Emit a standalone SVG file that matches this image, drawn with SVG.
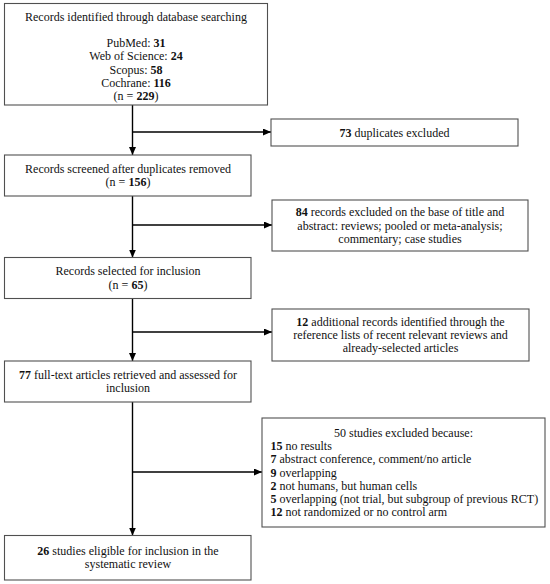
<svg xmlns="http://www.w3.org/2000/svg" width="550" height="584" viewBox="0 0 550 584">
<defs>
<marker id="ah" markerWidth="8" markerHeight="7" refX="8" refY="3.5" orient="auto" markerUnits="userSpaceOnUse">
<path d="M0,0 L8,3.5 L0,7 Z" fill="#000"/>
</marker>
<style>
.box{fill:#fff;stroke:#505050;stroke-width:1.1}
.t{font-family:"Liberation Serif","Times New Roman",serif;font-size:12px;fill:#111;text-anchor:middle}
.l{text-anchor:start}
.b{font-weight:bold}
.c{stroke:#000;stroke-width:1.4;fill:none}
</style>
</defs>
<rect width="550" height="584" fill="#fff"/>
<g id="connectors">
<line class="c" x1="132.5" y1="105" x2="132.5" y2="155" marker-end="url(#ah)"/>
<line class="c" x1="132.5" y1="132" x2="271" y2="132" marker-end="url(#ah)"/>
<line class="c" x1="132.5" y1="196" x2="132.5" y2="257.5" marker-end="url(#ah)"/>
<line class="c" x1="132.5" y1="225" x2="272" y2="225" marker-end="url(#ah)"/>
<line class="c" x1="132.5" y1="298.5" x2="132.5" y2="361" marker-end="url(#ah)"/>
<line class="c" x1="132.5" y1="332" x2="272" y2="332" marker-end="url(#ah)"/>
<line class="c" x1="132.5" y1="402" x2="132.5" y2="535.5" marker-end="url(#ah)"/>
<line class="c" x1="132.5" y1="472" x2="262" y2="472" marker-end="url(#ah)"/>
</g>
<g id="identified">
<rect class="box" x="4.5" y="3.5" width="263" height="101.5"/>
<text class="t" x="136" y="21">Records identified through database searching</text>
<text class="t" x="136" y="47">PubMed: <tspan class="b">31</tspan></text>
<text class="t" x="136" y="60.3">Web of Science: <tspan class="b">24</tspan></text>
<text class="t" x="136" y="73.6">Scopus: <tspan class="b">58</tspan></text>
<text class="t" x="136" y="86.9">Cochrane: <tspan class="b">116</tspan></text>
<text class="t" x="136" y="100.2">(n = <tspan class="b">229</tspan>)</text>
</g>
<g id="duplicates">
<rect class="box" x="271" y="119" width="247" height="27"/>
<text class="t" x="394.5" y="136.5"><tspan class="b">73</tspan> duplicates excluded</text>
</g>
<g id="screened">
<rect class="box" x="4.5" y="155" width="246.5" height="41"/>
<text class="t" x="128" y="172.5">Records screened after duplicates removed</text>
<text class="t" x="128" y="185.8">(n = <tspan class="b">156</tspan>)</text>
</g>
<g id="excluded84">
<rect class="box" x="272" y="200" width="256" height="51"/>
<text class="t" x="400" y="216.2"><tspan class="b">84</tspan> records excluded on the base of title and</text>
<text class="t" x="400" y="229.5">abstract: reviews; pooled or meta-analysis;</text>
<text class="t" x="400" y="242.8">commentary; case studies</text>
</g>
<g id="selected">
<rect class="box" x="4.5" y="257.5" width="246.5" height="41"/>
<text class="t" x="128" y="275.3">Records selected for inclusion</text>
<text class="t" x="128" y="288.6">(n = <tspan class="b">65</tspan>)</text>
</g>
<g id="additional">
<rect class="box" x="272" y="309" width="257" height="52"/>
<text class="t" x="400.5" y="325.7"><tspan class="b">12</tspan> additional records identified through the</text>
<text class="t" x="400.5" y="339">reference lists of recent relevant reviews and</text>
<text class="t" x="400.5" y="352.3">already-selected articles</text>
</g>
<g id="fulltext">
<rect class="box" x="4.5" y="361" width="246.5" height="41"/>
<text class="t" x="128" y="378.8"><tspan class="b">77</tspan> full-text articles retrieved and assessed for</text>
<text class="t" x="128" y="392.1">inclusion</text>
</g>
<g id="excluded50">
<rect class="box" x="262" y="418" width="283" height="109"/>
<text class="t" x="403.5" y="436.6">50 studies excluded because:</text>
<text class="t l" x="270.5" y="449.9"><tspan class="b">15</tspan> no results</text>
<text class="t l" x="270.5" y="463.2"><tspan class="b">7</tspan> abstract conference, comment/no article</text>
<text class="t l" x="270.5" y="476.5"><tspan class="b">9</tspan> overlapping</text>
<text class="t l" x="270.5" y="489.8"><tspan class="b">2</tspan> not humans, but human cells</text>
<text class="t l" x="270.5" y="503.1"><tspan class="b">5</tspan> overlapping (not trial, but subgroup of previous RCT)</text>
<text class="t l" x="270.5" y="516.4"><tspan class="b">12</tspan> not randomized or no control arm</text>
</g>
<g id="eligible">
<rect class="box" x="4.5" y="535.5" width="246.5" height="44.5"/>
<text class="t" x="128" y="554.5"><tspan class="b">26</tspan> studies eligible for inclusion in the</text>
<text class="t" x="128" y="567.8">systematic review</text>
</g>
</svg>
